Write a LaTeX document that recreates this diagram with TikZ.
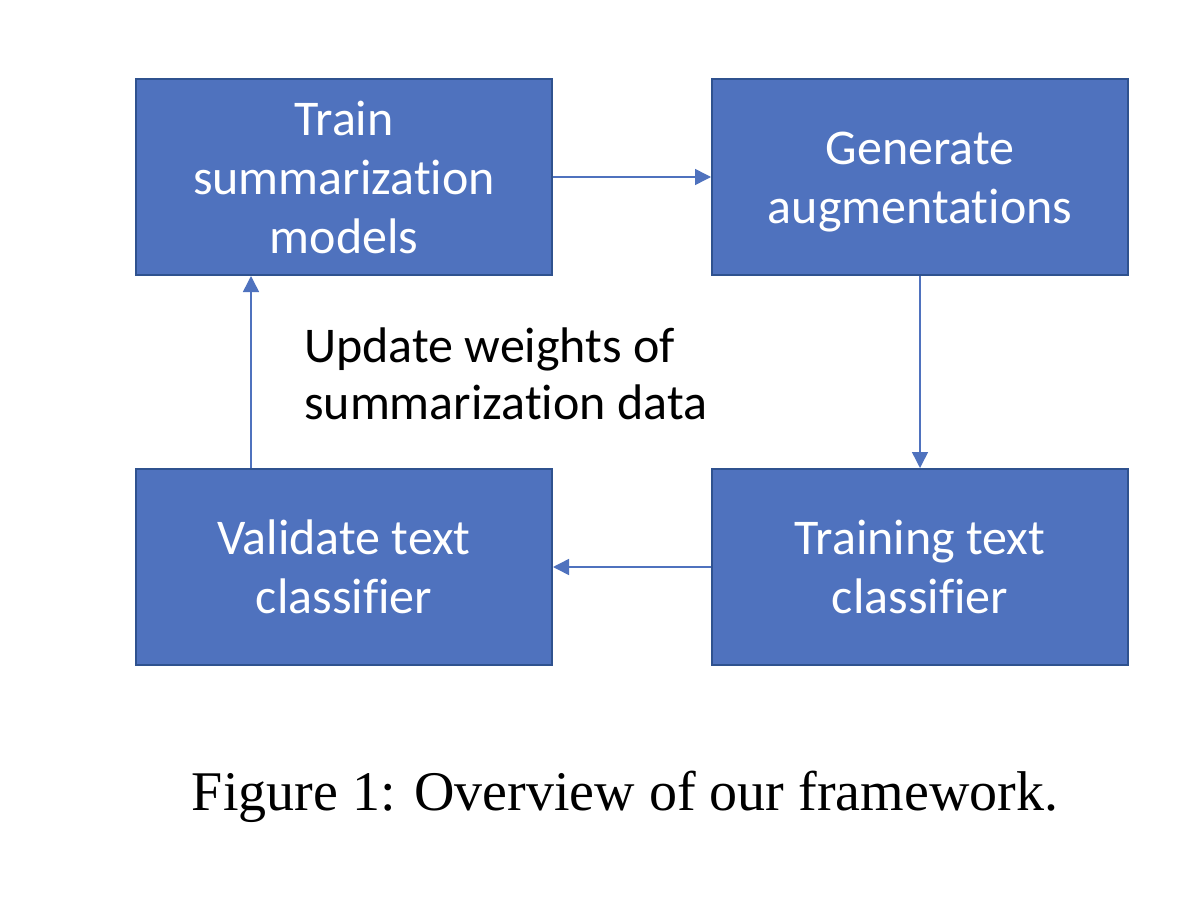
\documentclass[tikz,border=0pt]{standalone}
\usepackage{fontspec}
\setmainfont{Liberation Serif}
\newfontfamily\boxfont[Ligatures={NoCommon}]{Carlito}
\usetikzlibrary{arrows.meta}
\definecolor{boxfill}{HTML}{4F72BE}
\definecolor{boxline}{HTML}{2F528F}
\begin{document}
\begin{tikzpicture}[x=1pt,y=-1pt,
  stepbox/.style={draw=boxline,fill=boxfill,line width=2pt,minimum width=416pt,minimum height=196pt,
    text=white,align=center,inner sep=0pt,font=\boxfont\fontsize{50}{59}\selectfont},
  boxtext/.style={text=white,align=center,inner sep=0pt,font=\boxfont\fontsize{50}{59}\selectfont},
  conn/.style={draw=boxfill,line width=1.5pt,-{Triangle[length=16pt,width=16pt]}}]
\useasboundingbox (0,0) rectangle (1204,904);
\fill[white] (0,0) rectangle (1204,904);
\node[stepbox] (train) at (344,177) {Train\\summarization\\models};
\node[stepbox] (gen) at (920,177) {};
\node[boxtext] (gentext) at ([yshift=-5pt]gen.center) {Generate\\augmentations};
\node[stepbox] (valid) at (344,567) {Validate text\\classifier};
\node[stepbox] (trainc) at (920,567) {Training text\\classifier};
\draw[conn] (train.east) -- (gen.west);
\draw[conn] (gen.south) -- (trainc.north);
\draw[conn] (trainc.west) -- (valid.east);
\draw[conn] (valid.north -| 251,0) -- (train.south -| 251,0);
\node[anchor=west,align=left,inner sep=0pt,font=\boxfont\fontsize{50}{57}\selectfont] (upd) at (304,374) {Update weights of\\summarization data};
\node[inner sep=0pt,font=\fontsize{56}{64}\selectfont] (cap) at (625,797) {Figure 1: Overview of our framework.};
\end{tikzpicture}
\end{document}
